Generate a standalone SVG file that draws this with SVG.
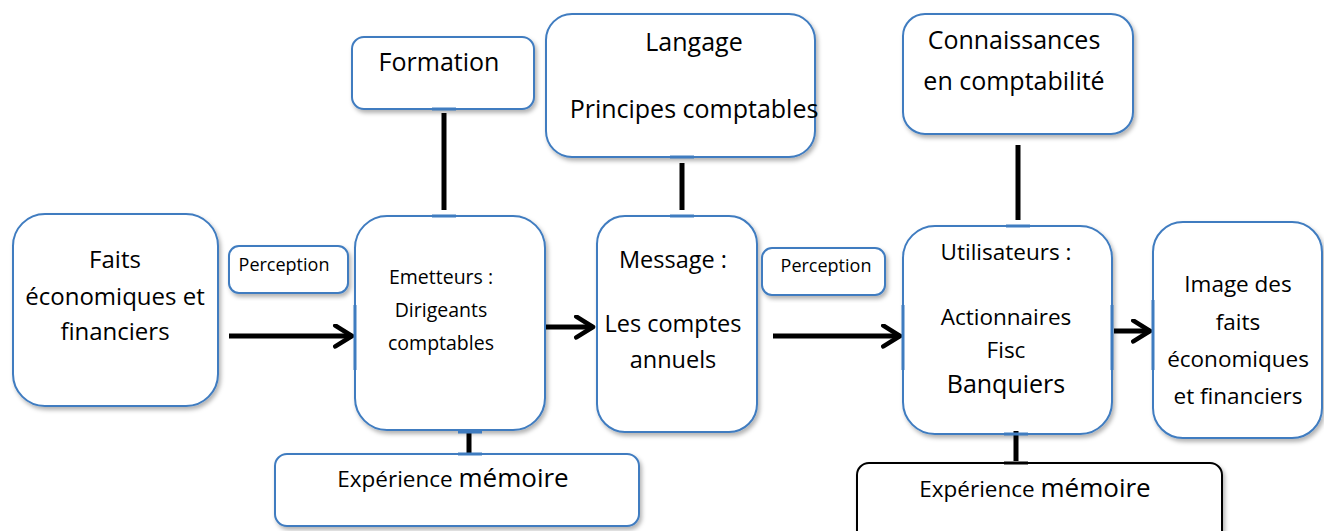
<svg xmlns="http://www.w3.org/2000/svg" width="1324" height="531" viewBox="0 0 1324 531">
<defs>
<filter id="sh" x="-10%" y="-10%" width="125%" height="125%">
<feDropShadow dx="2" dy="3" stdDeviation="2" flood-color="#000" flood-opacity="0.3"/>
</filter>
<marker id="ah" viewBox="0 0 12 12" refX="10" refY="6" markerWidth="5" markerHeight="5" markerUnits="strokeWidth" orient="auto">
<polyline points="2,1 10,6 2,11" fill="none" stroke="#000" stroke-width="2.2" stroke-linecap="round" stroke-linejoin="round"/>
</marker>
<style>
.box{fill:#fff;stroke:#3f7cc0;stroke-width:2;filter:url(#sh)}
.boxk{fill:#fff;stroke:#000;stroke-width:2;filter:url(#sh)}
text{font-family:"Open Sans","Liberation Sans",sans-serif;fill:#000;text-anchor:middle}
.conn{stroke:#000;stroke-width:5;fill:none}
.arr{stroke:#000;stroke-width:5;fill:none;marker-end:url(#ah)}
.tick{stroke:#3f7cc0;stroke-width:3}
</style>
</defs>

<g id="faits">
<rect class="box" x="13" y="214" width="205" height="192" rx="32"/>
<text x="115" y="268" font-size="24">Faits</text>
<text x="115" y="305" font-size="24">économiques et</text>
<text x="115" y="340" font-size="24">financiers</text>
</g>

<g id="perception1">
<rect class="box" x="229" y="246" width="119" height="47" rx="10"/>
<text x="284" y="271" font-size="18">Perception</text>
</g>

<g id="formation">
<rect class="box" x="352" y="37" width="182" height="72" rx="12"/>
<text x="439" y="71" font-size="25">Formation</text>
</g>

<g id="emetteurs">
<rect class="box" x="355" y="216" width="190" height="214" rx="32"/>
<text x="441" y="284" font-size="19.5">Emetteurs  :</text>
<text x="441" y="317" font-size="19.5">Dirigeants</text>
<text x="441" y="350" font-size="19.5">comptables</text>
</g>

<g id="langage">
<rect class="box" x="546" y="14" width="269" height="143" rx="26"/>
<text x="694" y="51" font-size="25">Langage</text>
<text x="694" y="118" font-size="25">Principes comptables</text>
</g>

<g id="message">
<rect class="box" x="597" y="216" width="160" height="216" rx="28"/>
<text x="673" y="268" font-size="23.5">Message :</text>
<text x="673" y="332" font-size="23.5">Les comptes</text>
<text x="673" y="368" font-size="23.5">annuels</text>
</g>

<g id="perception2">
<rect class="box" x="762" y="248" width="123" height="47" rx="10"/>
<text x="826" y="272" font-size="18">Perception</text>
</g>

<g id="connaissances">
<rect class="box" x="903" y="14" width="230" height="120" rx="22"/>
<text x="1014" y="49" font-size="25">Connaissances</text>
<text x="1014" y="90" font-size="25">en comptabilité</text>
</g>

<g id="utilisateurs">
<rect class="box" x="903" y="226" width="209" height="208" rx="32"/>
<text x="1006" y="260" font-size="22.5">Utilisateurs :</text>
<text x="1006" y="325" font-size="22.5">Actionnaires</text>
<text x="1006" y="358" font-size="22.5">Fisc</text>
<text x="1006" y="393" font-size="25">Banquiers</text>
</g>

<g id="image">
<rect class="box" x="1153" y="222" width="169" height="216" rx="30"/>
<text x="1238" y="292" font-size="22.5">Image des</text>
<text x="1238" y="330" font-size="22.5">faits</text>
<text x="1238" y="367" font-size="22.5">économiques</text>
<text x="1238" y="404" font-size="22.5">et financiers</text>
</g>

<g id="experience1">
<rect class="box" x="275" y="454" width="364" height="72" rx="12"/>
<text x="453" y="487"><tspan font-size="22.5">Expérience </tspan><tspan font-size="26">mémoire</tspan></text>
</g>

<g id="experience2">
<rect class="boxk" x="857" y="463" width="365" height="80" rx="12"/>
<text x="1035" y="497"><tspan font-size="22.5">Expérience </tspan><tspan font-size="26">mémoire</tspan></text>
</g>

<g id="connectors">
<line class="arr" x1="229" y1="336" x2="352" y2="336"/>
<line class="arr" x1="546" y1="327" x2="593" y2="327"/>
<line class="arr" x1="773" y1="336" x2="900" y2="336"/>
<line class="arr" x1="1114" y1="331" x2="1150" y2="331"/>
<line class="conn" x1="444" y1="113" x2="444" y2="210"/>
<line class="conn" x1="682" y1="163" x2="682" y2="210"/>
<line class="conn" x1="1018" y1="145" x2="1018" y2="220"/>
<line class="conn" x1="469" y1="431" x2="469" y2="453"/>
<line class="conn" x1="1016" y1="431" x2="1016" y2="461"/>
<line class="tick" x1="432" y1="109" x2="456" y2="109"/>
<line class="tick" x1="432" y1="216" x2="456" y2="216"/>
<line class="tick" x1="670" y1="157" x2="694" y2="157"/>
<line class="tick" x1="670" y1="216" x2="694" y2="216"/>
<line class="tick" x1="1006" y1="226" x2="1030" y2="226"/>
<line class="tick" x1="458" y1="432" x2="482" y2="432"/>
<line class="tick" x1="458" y1="454" x2="482" y2="454"/>
<line class="tick" x1="1004" y1="434" x2="1028" y2="434"/>
<line stroke="#000" stroke-width="3" x1="1004" y1="463" x2="1028" y2="463"/>
<line class="tick" x1="355" y1="305" x2="355" y2="370"/>
<line class="tick" x1="903" y1="305" x2="903" y2="370"/>
<line class="tick" x1="1112" y1="305" x2="1112" y2="370"/>
<line class="tick" x1="1153" y1="300" x2="1153" y2="370"/>
</g>
</svg>
